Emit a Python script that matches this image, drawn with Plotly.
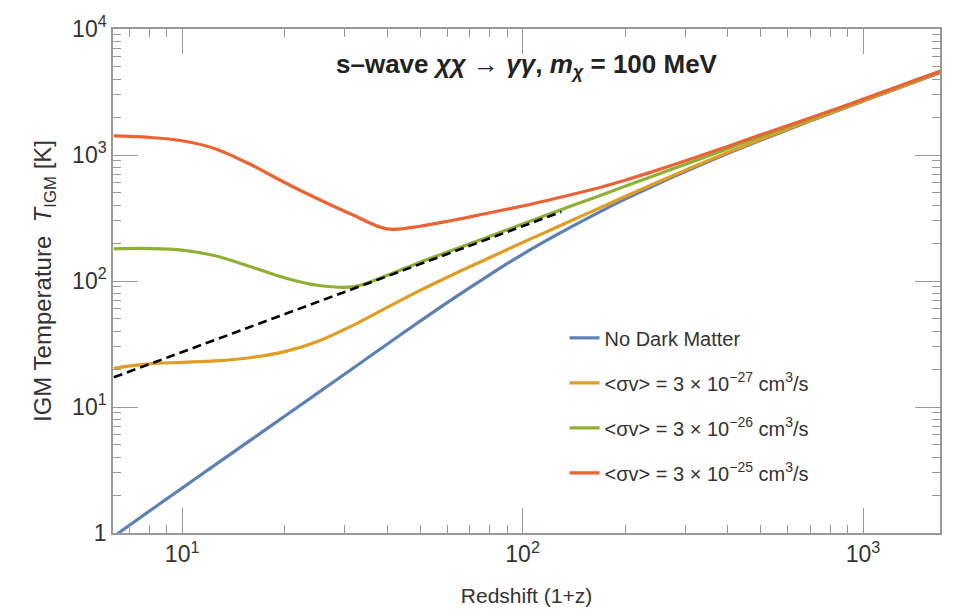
import plotly.graph_objects as go

# Redshift grid (1+z)
x_grid = [6.3, 8, 10, 12.5, 16, 20, 25, 32, 40, 50, 63, 80, 100, 125, 160, 200,
          250, 320, 400, 500, 630, 800, 1000, 1250, 1600, 1800]

T_noDM = [0.94, 1.49, 2.27, 3.47, 5.53, 8.45, 12.9, 20.6, 31.5, 48, 73.5, 112, 163, 230, 329, 446,
          592, 794, 1026, 1309, 1667, 2133, 2673, 3342, 4276, 4808]
T_27 = [20.3, 22, 22.6, 23.2, 24.7, 27.5, 33.1, 44.9, 61.7, 84.3, 113.8, 153, 202, 265, 357, 468,
        610, 813, 1047, 1330, 1690, 2153, 2692, 3365, 4305, 4842]
T_26 = [180, 181, 176, 158.5, 129, 106, 92.5, 90.2, 111, 141, 178, 226, 284, 355, 452, 565,
        705, 897, 1122, 1400, 1754, 2213, 2754, 3428, 4365, 4898]
T_25 = [1416, 1380, 1297, 1122, 832, 605, 449, 331, 259, 272, 305, 348, 394, 452, 532, 631,
        762, 951, 1169, 1445, 1786, 2239, 2767, 3451, 4395, 4932]

# CMB temperature reference (dashed)
x_cmb = [6.3, 130]
T_cmb = [17.2, 354]

names = ["No Dark Matter",
         "&lt;σv&gt; = 3 × 10<sup>−27</sup> cm<sup>3</sup>/s",
         "&lt;σv&gt; = 3 × 10<sup>−26</sup> cm<sup>3</sup>/s",
         "&lt;σv&gt; = 3 × 10<sup>−25</sup> cm<sup>3</sup>/s"]
colors = ["#5E81B5", "#E19C24", "#8FB032", "#EB6235"]
series = [T_noDM, T_27, T_26, T_25]

x_ticks = [10, 100, 1000]
x_ticktext = ["10<sup>1</sup>", "10<sup>2</sup>", "10<sup>3</sup>"]
y_ticks = [1, 10, 100, 1000, 10000]
y_ticktext = ["1", "10<sup>1</sup>", "10<sup>2</sup>", "10<sup>3</sup>", "10<sup>4</sup>"]

FONT = "Liberation Sans, Arial, Helvetica"

fig = go.Figure()
for i, (nm, c, ys) in enumerate(zip(names, colors, series)):
    fig.add_trace(go.Scatter(x=x_grid, y=ys, mode="lines", name=nm,
                             line=dict(color=c, width=3.2, shape="spline", smoothing=1.0),
                             legendgroup=str(i)))
fig.add_trace(go.Scatter(x=x_cmb, y=T_cmb, mode="lines", showlegend=False,
                         line=dict(color="black", width=2.6, dash="9px,5px")))

minor_x = [m * 10 ** e for e in range(0, 4) for m in range(2, 10)]
minor_y = [m * 10 ** e for e in range(0, 4) for m in range(2, 10)]

axis_common = dict(type="log", showgrid=False, zeroline=False, showline=True,
                   linecolor="#999999", linewidth=1.5, mirror="ticks",
                   ticks="inside", ticklen=25, tickwidth=1.3, tickcolor="#999999",
                   tickfont=dict(family=FONT, size=23, color="#333333"))

fig.update_xaxes(**axis_common, range=[0.797, 3.226], tickmode="array",
                 tickvals=x_ticks, ticktext=x_ticktext,
                 minor=dict(tickmode="array", tickvals=minor_x, ticks="inside",
                            ticklen=8, tickcolor="#999999", tickwidth=1),
                 title=dict(text="Redshift (1+z)", standoff=22,
                            font=dict(family=FONT, size=21, color="#333333")))
fig.update_yaxes(**axis_common, range=[0, 4], tickmode="array",
                 tickvals=y_ticks, ticktext=y_ticktext,
                 minor=dict(tickmode="array", tickvals=minor_y, ticks="inside",
                            ticklen=8, tickcolor="#999999", tickwidth=1),
                 title=dict(text="IGM Temperature  <i>T</i><sub>IGM</sub> [K]", standoff=14,
                            font=dict(family=FONT, size=24, color="#333333")))

fig.add_annotation(x=0.5, y=0.928, xref="paper", yref="paper", showarrow=False,
                   xanchor="center", yanchor="middle",
                   text="<b>s–wave <i>χχ</i> → <i>γγ</i>, <i>m</i><sub><i>χ</i></sub> = 100 MeV</b>",
                   font=dict(family=FONT, size=26, color="#222222"))

fig.update_layout(width=954, height=616, margin=dict(l=113, r=14, t=23, b=82),
                  paper_bgcolor="white", plot_bgcolor="white",
                  legend=dict(x=0.546, y=0.426, xanchor="left", yanchor="top",
                              bgcolor="rgba(0,0,0,0)", tracegroupgap=16, itemwidth=30,
                              font=dict(family=FONT, size=20, color="#333333")),
                  showlegend=True)

fig.write_html("out.html")
